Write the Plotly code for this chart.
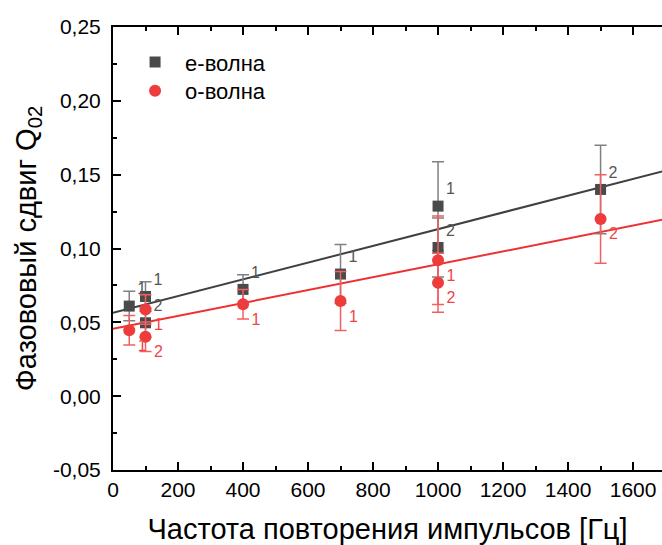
import plotly.graph_objects as go

# e-wave data
e_x = [50, 100, 100, 400, 700, 1000, 1000, 1500]
e_y = [0.061, 0.0675, 0.0497, 0.0723, 0.0827, 0.1287, 0.1007, 0.140]
e_err = [0.010, 0.010, 0.010, 0.010, 0.020, 0.030, 0.020, 0.030]
e_lbl = ["1", "1", "2", "1", "1", "1", "2", "2"]

# o-wave data
o_x = [50, 100, 100, 400, 700, 1000, 1000, 1500]
o_y = [0.0447, 0.0587, 0.0402, 0.0623, 0.0644, 0.092, 0.0768, 0.120]
o_err = [0.010, 0.010, 0.010, 0.010, 0.020, 0.030, 0.020, 0.030]
o_lbl = ["1", "1", "2", "1", "1", "1", "2", "2"]

# linear fits
fit_x = [0, 1700]
e_fit = [0.0564, 0.1528]
o_fit = [0.0456, 0.1199]

y_ticks = [-0.05, 0.0, 0.05, 0.10, 0.15, 0.20, 0.25]
y_ticktext = ["-0,05", "0,00", "0,05", "0,10", "0,15", "0,20", "0,25"]
x_ticks = [0, 200, 400, 600, 800, 1000, 1200, 1400, 1600]

FONT = "Liberation Sans, Arial, sans-serif"
E_COL = "#4a4a4a"
O_COL = "#ee3b3b"

fig = go.Figure()

fig.add_trace(go.Scatter(x=fit_x, y=e_fit, mode="lines",
                         line=dict(color="#404040", width=2), showlegend=False,
                         hoverinfo="skip"))
fig.add_trace(go.Scatter(x=fit_x, y=o_fit, mode="lines",
                         line=dict(color="#f03030", width=2), showlegend=False,
                         hoverinfo="skip"))

fig.add_trace(go.Scatter(
    x=e_x, y=e_y, mode="markers+text", name="е-волна", legend="legend",
    text=e_lbl, textposition="top right",
    textfont=dict(family=FONT, size=16, color="#555555"),
    marker=dict(symbol="square", size=11, color=E_COL),
    error_y=dict(type="data", array=e_err, visible=True, color="#808080",
                 thickness=1.5, width=6),
))
fig.add_trace(go.Scatter(
    x=o_x, y=o_y, mode="markers+text", name="о-волна", legend="legend2",
    text=o_lbl, textposition="bottom right",
    textfont=dict(family=FONT, size=16, color="#ee4444"),
    marker=dict(symbol="circle", size=12, color=O_COL),
    error_y=dict(type="data", array=o_err, visible=True, color="#f06060",
                 thickness=1.5, width=6),
))

tick_common = dict(ticks="inside", ticklen=8, tickwidth=2, tickcolor="black",
                   showgrid=False, zeroline=False, automargin=False)

fig.update_xaxes(
    range=[0, 1689], tickvals=x_ticks,
    showline=True, linecolor="black", linewidth=2, mirror="ticks",
    minor=dict(dtick=100, tick0=0, ticks="inside", ticklen=4, tickwidth=2, tickcolor="black"),
    tickfont=dict(family=FONT, size=21, color="black"),
    title=dict(text="Частота повторения импульсов [Гц]",
               font=dict(family=FONT, size=29, color="black"), standoff=24),
    **tick_common,
)
fig.update_yaxes(
    range=[-0.05, 0.25], tickvals=y_ticks, ticktext=y_ticktext,
    showline=True, linecolor="black", linewidth=2, mirror=False,
    minor=dict(dtick=0.025, tick0=0, ticks="inside", ticklen=4, tickwidth=2, tickcolor="black"),
    ticklabelstandoff=6,
    tickfont=dict(family=FONT, size=21, color="black"),
    title=dict(text="Фазововый сдвиг Q<sub>02</sub>",
               font=dict(family=FONT, size=29, color="black"), standoff=8),
    **tick_common,
)

leg_common = dict(xanchor="left", yanchor="top", bgcolor="rgba(0,0,0,0)",
                  itemwidth=50, font=dict(family=FONT, size=22, color="black"))

fig.update_layout(
    width=662, height=545,
    margin=dict(l=113, r=0, t=27, b=75),
    plot_bgcolor="white", paper_bgcolor="white",
    separators=", ",
    font=dict(family=FONT, color="black"),
    yaxis2=dict(overlaying="y", side="right", range=[-0.05, 0.25], tickvals=y_ticks,
                showticklabels=False, showline=False,
                minor=dict(dtick=0.025, tick0=0, ticks="inside", ticklen=4,
                           tickwidth=2, tickcolor="black"),
                **tick_common),
    legend=dict(x=0.022, y=0.968, **leg_common),
    legend2=dict(x=0.022, y=0.903, **leg_common),
)

fig.write_html("out.html",
               config={"displayModeBar": False},
               post_script="document.body.style.margin='0';document.body.style.overflow='hidden';")
